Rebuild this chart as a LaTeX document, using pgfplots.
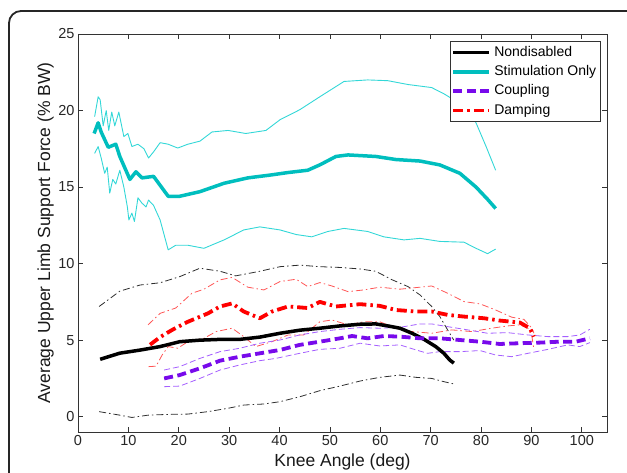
\documentclass[border=0pt]{standalone}
\usepackage{pgfplots}
\pgfplotsset{compat=1.18}
\usepackage{fontspec}
\setmainfont{Liberation Sans}
\definecolor{cymean}{RGB}{0,190,190}
\definecolor{cyband}{RGB}{50,215,215}
\definecolor{pumean}{RGB}{120,10,235}
\definecolor{puband}{RGB}{165,95,255}
\definecolor{remean}{RGB}{255,0,0}
\definecolor{reband}{RGB}{255,85,85}
\definecolor{bkband}{RGB}{45,45,45}
\begin{document}
\begin{tikzpicture}
\path[use as bounding box] (0,0) rectangle (627pt,472pt);
\draw[line width=1.8pt, color=black!85, rounded corners=12pt] (9pt,-30pt) -- (9pt,461pt) -- (660pt,461pt);
\begin{axis}[
  at={(78pt,40pt)}, anchor=south west,
  scale only axis, width=529pt, height=398pt,
  xmin=0, xmax=105, ymin=-1, ymax=25,
  xtick={0,10,...,100}, ytick={0,5,...,25},
  tick align=inside, major tick length=5pt,
  axis line style={line width=0.8pt, black!80},
  every tick/.style={line width=0.7pt, black!80},
  /pgf/number format/assume math mode=true,
  ticklabel style={font=\fontsize{14.5}{16}\selectfont, text=black!85},
  xlabel={Knee Angle (deg)}, ylabel={Average Upper Limb Support Force (\% BW)},
  every axis x label/.style={at={(axis description cs:0.5,-0.0879)}, anchor=base,
    font=\fontsize{17.5}{19}\selectfont, text=black!90},
  every axis y label/.style={at={(axis description cs:-0.0529,0.5)}, rotate=90, anchor=base,
    font=\fontsize{17.5}{19}\selectfont, text=black!90},
  legend style={at={(0.9887,0.9824)}, anchor=north east, draw=black!80, line width=0.8pt,
    font=\fontsize{14}{16}\selectfont, inner sep=1.5pt, row sep=0pt,
    nodes={text height=10.5pt, text depth=3pt, inner sep=2.9pt}},
  legend cell align=left,
  legend image code/.code={\draw[#1] (0pt,0pt) -- (36pt,0pt);},
  every axis plot/.append style={line join=round},
]
% Stimulation Only bands
\addplot[cyband, line width=0.9pt, forget plot] coordinates {
(3.3,19.6)(4.0,20.9)(4.4,20.7)(5.0,19.0)(5.6,20.0)(6.1,18.7)(6.7,19.9)(7.3,19.0)(8.1,19.9)(9.1,18.3)(9.9,18.5)(10.7,17.65)(11.9,17.8)(13.1,17.5)(14.0,16.9)(15.0,17.3)(16.3,17.9)(17.9,17.8)(19.8,17.55)(21.8,17.8)(24.2,18.0)(26.6,18.6)(29.8,18.7)(33.3,18.5)(37.3,18.7)(40.1,19.4)(44.0,20.05)(48.0,20.9)(52.8,21.9)(57.5,22.0)(61.5,21.95)(65.5,21.7)(70.2,21.5)(72.6,21.1)(76.6,20.3)(79.0,19.2)(81.0,17.65)(82.9,16.1)};
\addplot[cyband, line width=0.9pt, forget plot] coordinates {
(3.3,17.2)(4.0,17.65)(4.6,16.9)(5.3,15.9)(5.8,16.3)(6.3,14.6)(6.9,15.5)(7.5,15.2)(8.3,16.1)(9.1,15.0)(9.8,13.7)(10.1,12.85)(10.7,13.3)(11.2,12.75)(11.9,14.3)(12.7,13.95)(13.5,13.7)(14.0,14.15)(15.0,13.8)(16.3,12.85)(17.9,10.9)(19.4,11.2)(21.8,11.2)(25.0,11.0)(29.0,11.55)(32.9,12.2)(36.1,12.4)(40.1,12.2)(43.3,11.9)(46.4,11.75)(49.6,12.1)(52.8,12.3)(57.5,12.1)(60.7,11.75)(64.7,11.55)(67.9,11.65)(71.8,11.45)(76.6,11.4)(79.0,11.0)(81.3,10.65)(82.9,10.95)};
% Nondisabled bands
\addplot[bkband, line width=0.8pt, dash pattern=on 7pt off 3pt on 1.5pt off 3pt, forget plot] coordinates {
(4.2,7.2)(8.3,8.2)(12.3,8.6)(16.3,8.75)(20.2,9.15)(24.2,9.7)(28.2,9.5)(31.3,9.2)(36.1,9.5)(40.1,9.8)(44.0,9.9)(48.0,9.8)(52.0,9.75)(56.0,9.65)(59.1,9.5)(62.3,8.95)(65.5,8.5)(67.9,7.95)(70.2,7.2)(71.8,6.55)(73.4,5.65)(74.6,5.0)};
\addplot[bkband, line width=0.8pt, dash pattern=on 7pt off 3pt on 1.5pt off 3pt, forget plot] coordinates {
(4.2,0.33)(8.3,0.1)(10.7,-0.05)(13.9,0.1)(17.9,0.15)(21.8,0.17)(25.8,0.33)(29.8,0.55)(32.9,0.76)(36.9,0.83)(40.1,0.98)(44.0,1.3)(48.0,1.7)(52.0,2.0)(56.0,2.33)(59.9,2.57)(63.9,2.72)(67.1,2.57)(70.2,2.5)(72.6,2.29)(74.6,2.14)};
% Damping bands
\addplot[reband, line width=0.8pt, dash pattern=on 7pt off 3pt on 1.5pt off 3pt, forget plot] coordinates {
(13.9,6.0)(16.3,6.75)(19.4,7.1)(22.6,8.06)(25.0,8.33)(28.2,8.94)(30.6,9.1)(33.7,8.46)(36.9,8.28)(40.1,8.83)(43.3,8.98)(45.6,8.5)(48.0,8.76)(50.4,8.54)(53.6,8.17)(56.7,8.28)(59.9,8.46)(63.9,8.33)(67.9,8.46)(70.2,8.54)(73.4,8.06)(76.6,7.52)(79.8,7.37)(82.9,6.97)(86.1,6.5)(88.5,6.36)(90.1,5.78)(90.5,5.45)};
\addplot[reband, line width=0.8pt, dash pattern=on 7pt off 3pt on 1.5pt off 3pt, forget plot] coordinates {
(14.0,3.27)(15.5,3.3)(16.7,4.03)(17.9,4.58)(19.8,4.47)(21.8,4.9)(25.0,5.12)(27.4,5.56)(30.6,5.78)(32.9,5.23)(35.3,4.58)(38.5,4.9)(41.7,5.34)(44.8,5.34)(48.0,6.2)(50.4,6.32)(53.6,6.0)(56.7,6.2)(59.9,6.2)(63.1,5.78)(66.3,5.56)(70.2,5.45)(74.2,5.67)(78.2,5.56)(82.1,5.78)(85.3,5.93)(87.7,6.0)(89.3,5.78)(90.1,5.23)(90.5,4.36)};
% Coupling bands
\addplot[puband, line width=0.8pt, dash pattern=on 6pt off 3pt, forget plot] coordinates {
(17.1,3.05)(20.2,3.27)(24.2,3.81)(28.2,4.25)(32.1,4.47)(36.1,4.8)(40.1,5.01)(44.0,5.34)(48.0,5.56)(52.0,5.71)(56.0,5.82)(59.9,5.78)(63.9,5.84)(67.9,6.06)(70.2,6.06)(73.4,5.88)(77.4,5.67)(81.3,5.45)(85.3,5.49)(89.3,5.34)(93.3,5.23)(97.2,5.23)(99.6,5.34)(101.6,5.71)};
\addplot[puband, line width=0.8pt, dash pattern=on 6pt off 3pt, forget plot] coordinates {
(17.1,1.96)(20.2,2.0)(24.2,2.5)(28.2,3.05)(32.1,3.38)(36.1,3.66)(39.3,3.81)(44.0,4.14)(48.0,4.4)(52.0,4.47)(56.0,4.8)(59.9,4.62)(63.9,4.69)(67.1,4.36)(69.4,4.14)(71.8,4.25)(75.8,4.25)(79.8,4.32)(82.9,4.03)(86.1,3.92)(89.3,4.14)(93.3,4.4)(97.2,4.69)(99.6,4.58)(101.6,4.84)};
% Means
\addplot[black, line width=3.5pt] coordinates {
(4.4,3.75)(8.3,4.15)(12.3,4.35)(16.3,4.58)(20.2,4.9)(24.2,5.0)(28.2,5.05)(32.1,5.05)(36.1,5.2)(40.1,5.45)(44.0,5.65)(48.0,5.78)(52.0,5.93)(56.0,6.04)(59.1,6.06)(61.5,5.93)(63.9,5.78)(66.3,5.45)(68.7,5.05)(71.0,4.58)(72.6,4.15)(73.8,3.7)(74.6,3.5)};
\addlegendentry{Nondisabled}
\addplot[cymean, line width=3.5pt] coordinates {
(3.2,18.5)(4.0,19.2)(4.6,18.6)(6.0,17.6)(7.5,17.8)(8.3,17.0)(10.3,15.5)(11.5,16.0)(12.7,15.6)(15.0,15.7)(17.9,14.4)(20.2,14.4)(24.2,14.7)(29.0,15.25)(33.7,15.6)(38.5,15.8)(41.7,15.95)(45.6,16.1)(48.0,16.45)(51.2,17.0)(53.6,17.1)(59.1,17.0)(63.1,16.8)(67.9,16.7)(71.8,16.45)(75.8,15.9)(79.0,15.0)(81.3,14.2)(82.9,13.6)};
\addlegendentry{Stimulation Only}
\addplot[pumean, line width=3.8pt, dash pattern=on 9pt off 4.5pt] coordinates {
(17.1,2.5)(20.2,2.72)(24.2,3.16)(28.2,3.66)(32.1,3.92)(36.1,4.14)(40.1,4.36)(44.0,4.69)(48.0,4.9)(52.0,5.12)(54.4,5.27)(57.5,5.12)(60.7,5.27)(63.9,5.23)(67.9,5.12)(71.8,5.12)(75.8,5.01)(79.8,4.9)(83.7,4.75)(87.7,4.8)(91.7,4.84)(95.6,4.9)(98.8,4.9)(101.6,5.12)};
\addlegendentry{Coupling}
\addplot[remean, line width=3.8pt, dash pattern=on 10pt off 4pt on 2.5pt off 4pt] coordinates {
(14.3,4.7)(16.3,5.2)(18.7,5.67)(21.8,6.2)(25.8,6.75)(28.2,7.2)(30.6,7.4)(32.9,6.87)(36.1,6.43)(38.5,6.87)(41.7,7.2)(45.6,7.1)(48.0,7.5)(51.2,7.2)(56.0,7.35)(59.9,7.24)(63.1,6.97)(67.1,6.87)(70.2,6.87)(73.4,6.65)(76.6,6.54)(80.6,6.43)(83.7,6.28)(87.7,6.15)(89.7,5.78)(90.5,5.23)};
\addlegendentry{Damping}
\end{axis}
\end{tikzpicture}
\end{document}
